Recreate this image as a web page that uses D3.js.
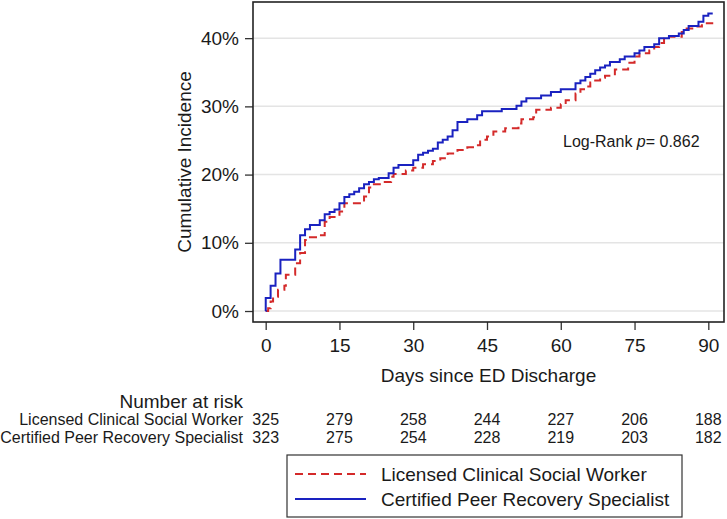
<!DOCTYPE html>
<html lang="en">
<head>
    <meta charset="UTF-8">
    <title>Cumulative Incidence by Intervention</title>
    <script src="https://d3js.org/d3.v7.min.js"></script>
    <style>
        body { margin: 0; background: white; }
        text { font-family: "Liberation Sans", Arial, sans-serif; fill: #1a1a1a; }
    </style>
</head>
<body>
    <div id="plot"></div>
    <script>
        // Step data: day of event, cumulative incidence (%) after the step
        const lcswDays = [0, 0.5, 1, 1.5, 2.5, 3.8, 4.1, 6, 7, 8, 9, 11, 12, 13, 15, 16, 20, 21, 22, 24, 25.5, 26, 28.5, 30, 32, 34, 35.5, 37, 39, 41, 42.5, 43.6, 45, 46.3, 48.7, 51.4, 52, 54.4, 55, 58, 60, 61, 63, 64, 65, 66, 67, 68, 69, 71, 73.7, 75, 76, 78, 79, 80, 81, 82, 84.6, 85.6, 87.6, 88.7, 91];
        const lcswInc  = [0, 0.4, 1.4, 2.1, 3.1, 3.7, 5.3, 7.0, 8.5, 10.4, 10.8, 11.1, 13.1, 13.8, 14.6, 15.8, 16.8, 18.1, 18.6, 18.9, 19.7, 20.1, 20.6, 21.0, 21.5, 22.0, 22.4, 23.1, 23.6, 24.0, 24.3, 25.1, 25.6, 26.3, 26.8, 27.5, 28.1, 28.4, 29.5, 29.8, 30.3, 30.9, 31.9, 32.5, 32.9, 33.5, 33.8, 34.2, 34.5, 35.4, 36.4, 37.3, 37.8, 38.2, 38.7, 39.3, 39.9, 40.2, 40.9, 41.4, 41.7, 42.2, 42.2];

        const cprsDays = [0, 0.01, 1, 2, 3, 6, 7, 8, 9, 11, 12, 13, 14, 15, 16, 17, 18, 19, 20, 21, 22, 23, 25, 26, 27, 30, 31, 32, 33, 34, 35, 36, 37, 38, 39, 41, 43, 44, 48, 51, 52, 53, 56, 58, 60, 63, 64, 65, 66, 67, 68, 69, 70, 72, 73, 75, 76, 77, 79, 80, 82, 84, 85, 86, 88, 89, 90, 90.9];
        const cprsInc  = [0, 1.9, 3.7, 5.5, 7.5, 9.0, 11.1, 12.0, 12.6, 13.3, 14.2, 14.5, 14.9, 15.8, 16.7, 17.1, 17.5, 18.0, 18.6, 18.9, 19.3, 19.5, 20.2, 21.0, 21.4, 22.1, 22.9, 23.2, 23.5, 23.8, 24.7, 25.1, 25.6, 26.5, 27.7, 28.1, 28.7, 29.3, 29.6, 30.1, 30.7, 31.2, 31.6, 32.1, 32.5, 33.4, 33.8, 34.3, 34.8, 35.3, 35.7, 36.0, 36.5, 36.9, 37.3, 37.8, 38.2, 38.7, 39.1, 40.0, 40.3, 40.7, 41.2, 41.8, 42.4, 43.3, 43.6, 43.6];

        const xTicks = [0, 15, 30, 45, 60, 75, 90];
        const yTicks = [0, 10, 20, 30, 40];

        const groupNames = ["Licensed Clinical Social Worker", "Certified Peer Recovery Specialist"];
        const riskLcsw = [325, 279, 258, 244, 227, 206, 188];
        const riskCprs = [323, 275, 254, 228, 219, 203, 182];

        const width = 727;
        const height = 519;
        const margin = { top: 2, right: 3, bottom: 197, left: 253 };

        const red = "#d42a2a";
        const blue = "#1a22c0";

        const svg = d3.select("#plot")
            .append("svg")
            .attr("width", width)
            .attr("height", height);

        const xScale = d3.scaleLinear()
            .domain([-2.58, 93.19])
            .range([margin.left, width - margin.right]);

        const yScale = d3.scaleLinear()
            .domain([-1.61, 45.3])
            .range([height - margin.bottom, margin.top]);

        // gridlines
        svg.append("g")
            .selectAll("line")
            .data(yTicks)
            .enter()
            .append("line")
            .attr("x1", margin.left)
            .attr("x2", width - margin.right)
            .attr("y1", d => yScale(d))
            .attr("y2", d => yScale(d))
            .attr("stroke", "#e4e4e4")
            .attr("stroke-width", 1.5);

        // y axis
        const yAxis = svg.append("g")
            .attr("transform", `translate(${margin.left},0)`)
            .call(d3.axisLeft(yScale).tickValues(yTicks).tickSize(8).tickPadding(6).tickFormat(d => d + "%"));
        yAxis.select(".domain").remove();
        yAxis.selectAll("line").attr("stroke", "#333").attr("stroke-width", 1.3);
        yAxis.selectAll("text").attr("font-size", "19px").attr("fill", "#1a1a1a");

        // x axis
        const xAxis = svg.append("g")
            .attr("transform", `translate(0,${height - margin.bottom})`)
            .call(d3.axisBottom(xScale).tickValues(xTicks).tickSize(8));
        xAxis.select(".domain").remove();
        xAxis.selectAll("line").attr("stroke", "#333").attr("stroke-width", 1.3);
        xAxis.selectAll("text").attr("font-size", "19px").attr("fill", "#1a1a1a")
            .attr("y", 30).attr("dy", "0");

        // curves
        const line = d3.line()
            .x(d => xScale(d[0]))
            .y(d => yScale(d[1]))
            .curve(d3.curveStepAfter);

        svg.append("path")
            .datum(lcswDays.map((d, i) => [d, lcswInc[i]]))
            .attr("d", line)
            .attr("fill", "none")
            .attr("stroke", red)
            .attr("stroke-width", 2)
            .attr("stroke-dasharray", "8,5");

        svg.append("path")
            .datum(cprsDays.map((d, i) => [d, cprsInc[i]]))
            .attr("d", line)
            .attr("fill", "none")
            .attr("stroke", blue)
            .attr("stroke-width", 2);

        // frame
        svg.append("rect")
            .attr("x", margin.left)
            .attr("y", margin.top)
            .attr("width", width - margin.left - margin.right)
            .attr("height", height - margin.top - margin.bottom)
            .attr("fill", "none")
            .attr("stroke", "#222")
            .attr("stroke-width", 1.6);

        // axis titles
        svg.append("text")
            .attr("x", (margin.left + width - margin.right) / 2)
            .attr("y", 382)
            .attr("text-anchor", "middle")
            .attr("font-size", "19px")
            .text("Days since ED Discharge");

        svg.append("text")
            .attr("transform", `translate(191,${(margin.top + height - margin.bottom) / 2}) rotate(-90)`)
            .attr("text-anchor", "middle")
            .attr("font-size", "19px")
            .text("Cumulative Incidence");

        // log-rank annotation
        const lr = svg.append("text")
            .attr("x", 563)
            .attr("y", 147)
            .attr("font-size", "16px");
        lr.append("tspan").text("Log-Rank ");
        lr.append("tspan").attr("font-style", "italic").text("p");
        lr.append("tspan").text("= 0.862");

        // number at risk table
        svg.append("text")
            .attr("x", 243)
            .attr("y", 408)
            .attr("text-anchor", "end")
            .attr("font-size", "19px")
            .text("Number at risk");

        [riskLcsw, riskCprs].forEach((row, r) => {
            const yPos = 425 + r * 18;
            svg.append("text")
                .attr("x", 243)
                .attr("y", yPos)
                .attr("text-anchor", "end")
                .attr("font-size", "16px")
                .text(groupNames[r]);
            svg.append("g")
                .selectAll("text")
                .data(row)
                .enter()
                .append("text")
                .attr("x", (d, i) => xScale(xTicks[i]))
                .attr("y", yPos)
                .attr("text-anchor", "middle")
                .attr("font-size", "16px")
                .text(d => d);
        });

        // legend
        const legend = svg.append("g");
        legend.append("rect")
            .attr("x", 287)
            .attr("y", 455)
            .attr("width", 395)
            .attr("height", 62)
            .attr("fill", "white")
            .attr("stroke", "#333")
            .attr("stroke-width", 1.2);

        [[red, "8,5"], [blue, null]].forEach((s, i) => {
            const ly = 474 + i * 25;
            legend.append("line")
                .attr("x1", 295)
                .attr("x2", 366)
                .attr("y1", ly)
                .attr("y2", ly)
                .attr("stroke", s[0])
                .attr("stroke-width", 2)
                .attr("stroke-dasharray", s[1]);
            legend.append("text")
                .attr("x", 381)
                .attr("y", ly + 7)
                .attr("font-size", "19px")
                .text(groupNames[i]);
        });
    </script>
</body>
</html>
